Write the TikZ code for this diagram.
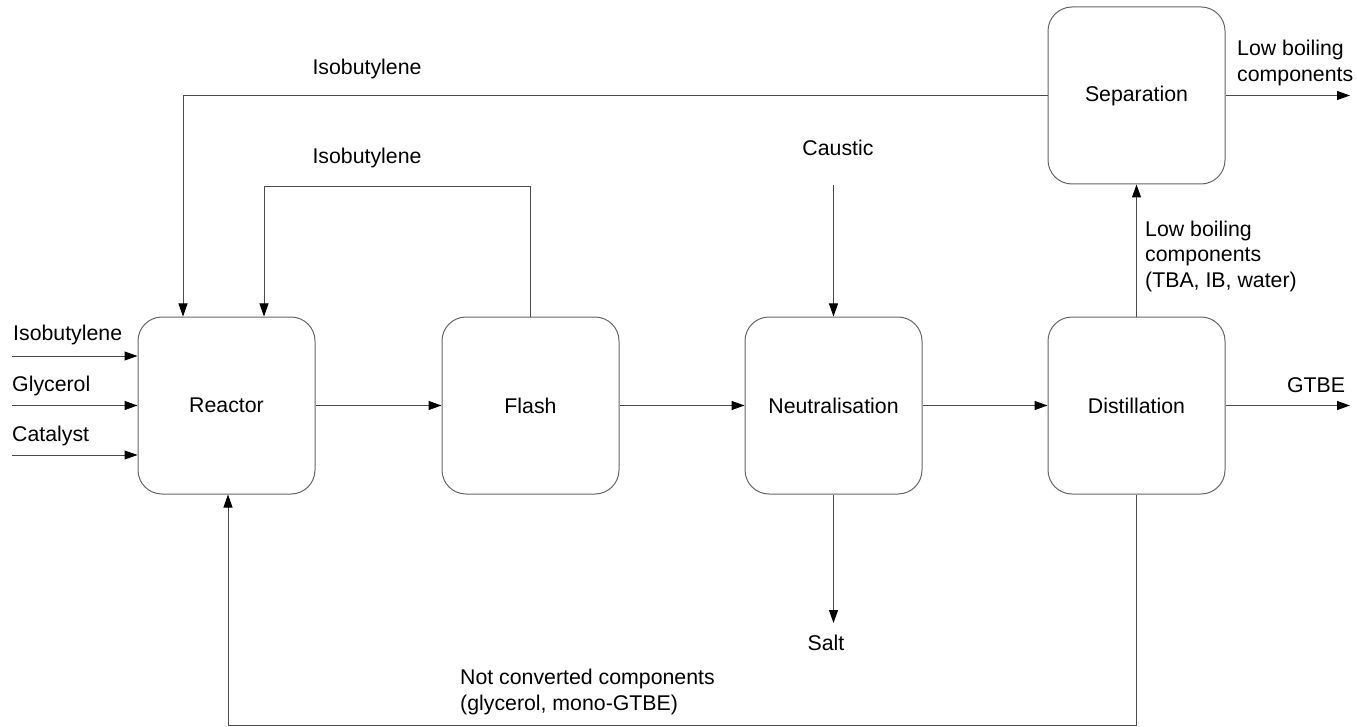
\documentclass[tikz,border=0pt]{standalone}
\usepackage{fontspec}
\setmainfont{Liberation Sans}
\usetikzlibrary{arrows.meta}
\begin{document}
\begin{tikzpicture}[x=1pt,y=-1pt,
  unit/.style={draw=black!60, line width=1pt, rounded corners=24pt, minimum width=177pt, minimum height=177pt, inner sep=0pt, font=\fontsize{21.3}{25.5}\selectfont},
  lbl/.style={inner sep=0pt, font=\fontsize{21.3}{25.5}\selectfont, align=left},
  flow/.style={draw=black!70, line width=1pt, -{Triangle[length=13pt,width=9pt,color=black]}},
  plain/.style={draw=black!70, line width=1pt}]
\useasboundingbox (0,0) rectangle (1357,727);
% units
\node[unit] (reactor) at (226.5,405.5) {Reactor};
\node[unit] (flash) at (530.5,405.5) {Flash};
\node[unit] (neut) at (833.5,405.5) {Neutralisation};
\node[unit] (dist) at (1136.5,405.5) {Distillation};
\node[unit] (sep) at (1136.5,95.5) {Separation};
% feed inputs
\coordinate (in1) at (12,356);
\coordinate (in2) at (12,405.5);
\coordinate (in3) at (12,455);
\node[lbl, anchor=west] (lisob) at (13,335) {Isobutylene};
\node[lbl, anchor=west] (lglyc) at (12,386) {Glycerol};
\node[lbl, anchor=west] (lcat) at (12,436) {Catalyst};
\draw[flow] (in1) -- (in1 -| reactor.west);
\draw[flow] (in2) -- (reactor.west);
\draw[flow] (in3) -- (in3 -| reactor.west);
% main flow
\draw[flow] (reactor) -- (flash);
\draw[flow] (flash) -- (neut);
\draw[flow] (neut) -- (dist);
\coordinate (gtbeend) at (1350,405.5);
\draw[flow] (dist.east) -- (gtbeend);
\node[lbl] (lgtbe) at (1316,385) {GTBE};
% recycles
\coordinate (outer) at (183,95.5);
\draw[flow] (sep.west) -- (outer) -- (outer |- reactor.north);
\node[lbl] (lisob1) at (367,69) {Isobutylene};
\coordinate (inner) at (264,187);
\draw[flow] (flash.north) |- (inner) -- (inner |- reactor.north);
\node[lbl] (lisob2) at (367,158) {Isobutylene};
% caustic and salt
\coordinate (caus) at (833.5,185);
\node[lbl] (lcaus) at (838,148) {Caustic};
\draw[flow] (caus) -- (neut.north);
\coordinate (salt) at (833.5,623);
\draw[flow] (neut.south) -- (salt);
\node[lbl] (lsalt) at (826,643) {Salt};
% distillation to separation
\draw[flow] (dist.north) -- (sep.south);
\node[lbl, anchor=west] (llow) at (1145,256) {Low boiling\\components\\(TBA, IB, water)};
\coordinate (sepend) at (1350,95.5);
\draw[flow] (sep.east) -- (sepend);
\node[lbl, anchor=west] (llow2) at (1237,63) {Low boiling\\components};
% bottom recycle
\coordinate (bot) at (228,725);
\draw[flow] (dist.south) |- (bot) -- (bot |- reactor.south);
\node[lbl, anchor=west] (lnot) at (460,692) {Not converted components\\(glycerol, mono-GTBE)};
\end{tikzpicture}
\end{document}
